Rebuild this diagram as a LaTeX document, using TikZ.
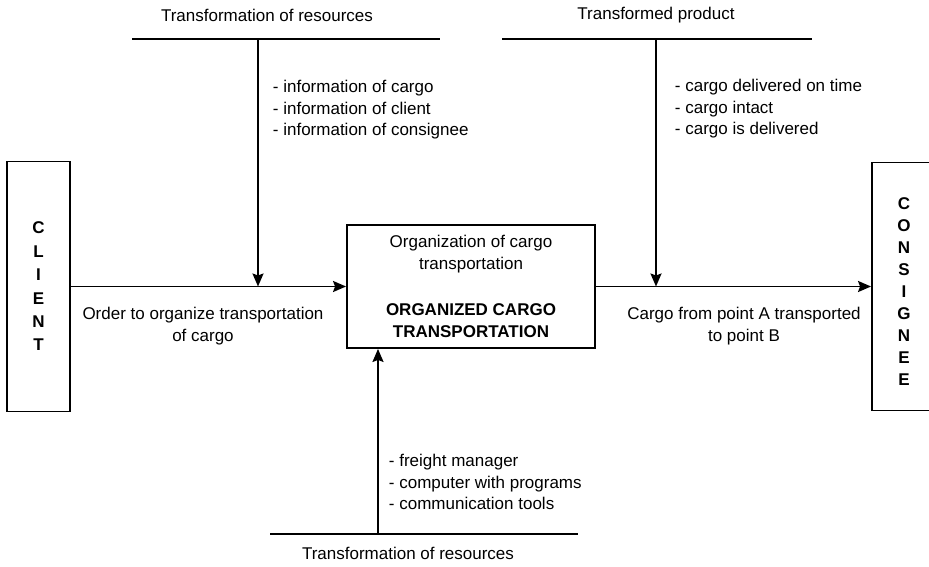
\documentclass[tikz,border=0pt]{standalone}
\usepackage{fontspec}
\setmainfont{Liberation Sans}
\usetikzlibrary{arrows.meta,positioning}

\begin{document}
\begin{tikzpicture}[
    x=1pt, y=-1pt, line width=1.9pt,
    font=\fontsize{17}{21.5}\selectfont, >={Stealth[length=13pt,width=11pt,inset=2pt]},
    box/.style={rectangle, draw, line width=1.9pt, inner sep=0pt},
    txt/.style={inner sep=0pt, align=center},
    lst/.style={inner sep=0pt, align=left, anchor=west},
    letters/.style={align=center, font=\fontsize{17}{#1}\selectfont\bfseries}
]
    \useasboundingbox (0,0) rectangle (929,567);
    \clip (0,0) rectangle (929,567);
    % side boxes and process box
    \node[box, letters=23.4, minimum width=63pt, minimum height=250pt] (client) at (38.5,286.5) {C\\L\\I\\E\\N\\T};
    \node[box, letters=22, minimum width=64pt, minimum height=248pt] (cons) at (904,286.5) {\rule{0pt}{22pt}C\\O\\N\\S\\I\\G\\N\\E\\E};
    \node[box, txt, minimum width=248pt, minimum height=123pt] (org) at (471,286.5)
        {Organization of cargo\\transportation\\[25pt]\textbf{ORGANIZED CARGO}\\\textbf{TRANSPORTATION}};
    \draw[->] (client) -- (org);
    \draw[->] (org) -- (cons);
    % bars
    \coordinate (inL) at (132,39);
    \coordinate (inR) at (440,39);
    \coordinate (inTop) at (258,39);
    \coordinate (outL) at (502,39);
    \coordinate (outR) at (812,39);
    \coordinate (outTop) at (656,39);
    \coordinate (mechL) at (270,534);
    \coordinate (mechR) at (578,534);
    \coordinate (mechBot) at (378,534);
    \draw (inL) -- (inR);
    \draw (outL) -- (outR);
    \draw (mechL) -- (mechR);
    \draw[->] (inTop) -- (inTop |- org);
    \draw[->] (outTop) -- (outTop |- org);
    \draw[->] (mechBot) -- (mechBot |- org.south);
    % labels
    \node[txt] (inlbl) at (267,15) {Transformation of resources};
    \node[txt] (outlbl) at (656,15) {Transformed product};
    \node[txt] (mechlbl) at (408,553) {Transformation of resources};
    \node[lst] (inlist) at (272,110) {- information of cargo\\- information of client\\- information of consignee};
    \node[lst] (outlist) at (674,109) {- cargo delivered on time\\- cargo intact\\- cargo is delivered};
    \node[lst] (mechlist) at (388,482) {- freight manager\\- computer with programs\\- communication tools};
    \node[txt] (orderlbl) at (203,326) {Order to organize transportation\\of cargo};
    \node[txt] (cargolbl) at (744,326) {Cargo from point A transported\\to point B};
\end{tikzpicture}
\end{document}
